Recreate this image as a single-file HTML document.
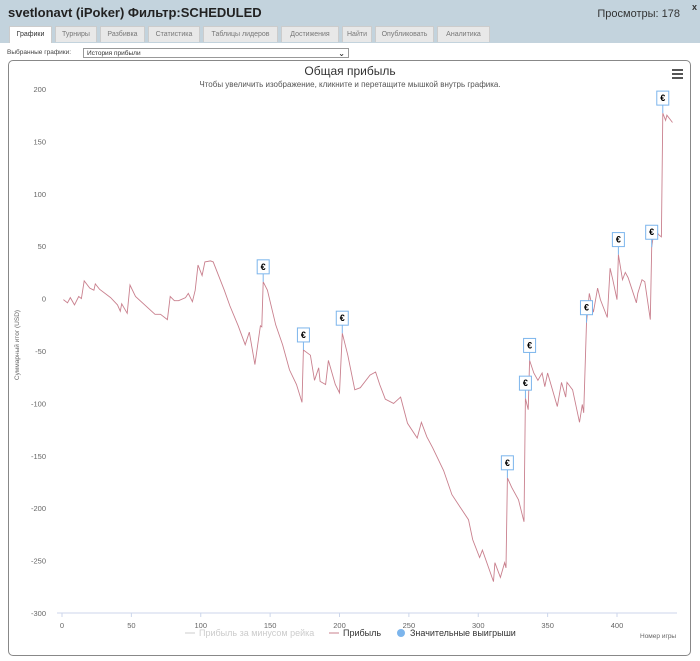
<!DOCTYPE html>
<html><head><meta charset="utf-8">
<style>
body{margin:0;width:700px;height:661px;overflow:hidden;background:#fff;font-family:"Liberation Sans","DejaVu Sans",sans-serif;position:relative}
.hdr{position:absolute;left:0;top:0;width:700px;height:43px;background:#c3d3dd}
.title{position:absolute;left:8px;top:5px;font-size:13px;font-weight:bold;color:#222}
.views{position:absolute;right:20px;top:8px;font-size:11px;color:#333}
.close{position:absolute;right:3px;top:2px;font-size:9px;font-weight:bold;color:#333}
.tabs{position:absolute;left:8px;top:26px;height:17px}
.tab{position:absolute;top:0;height:16px;font-size:7px;color:#777;background:#e8e8e8;border:1px solid #ccc;border-bottom:none;text-align:center;line-height:16px;box-sizing:border-box}
.tab.act{background:#fff;color:#333;height:17px}
.sel-l{position:absolute;left:7px;top:49px;font-size:6.5px;color:#444}
.sel{position:absolute;left:83px;top:48px;width:266px;height:10px;border:1px solid #999;font-size:6.5px;color:#333;line-height:10px;padding-left:3px;box-sizing:border-box}
.sel span{position:absolute;right:3px;top:0;font-size:8px;font-weight:bold}
.box{position:absolute;left:8px;top:60px;width:683px;height:596px;border:1px solid #888;border-radius:5px;box-sizing:border-box}
</style></head><body>
<div class="hdr">
<div class="title">svetlonavt (iPoker) Фильтр:SCHEDULED</div>
<div class="views">Просмотры: 178</div>
<div class="close">x</div>
<div class="tabs">
<div class="tab act" style="left:1px;width:43px">Графики</div>
<div class="tab" style="left:47px;width:42px">Турниры</div>
<div class="tab" style="left:92px;width:45px">Разбивка</div>
<div class="tab" style="left:140px;width:52px">Статистика</div>
<div class="tab" style="left:195px;width:75px">Таблицы лидеров</div>
<div class="tab" style="left:273px;width:58px">Достижения</div>
<div class="tab" style="left:334px;width:30px">Найти</div>
<div class="tab" style="left:367px;width:59px">Опубликовать</div>
<div class="tab" style="left:429px;width:53px">Аналитика</div>
</div></div>
<div class="sel-l">Выбранные графики:</div>
<div class="sel">История прибыли<span>⌄</span></div>
<div class="box"></div>
<svg id="chart" width="700" height="661" style="position:absolute;left:0;top:0">
<text x="350" y="75" text-anchor="middle" font-size="12" fill="#333">Общая прибыль</text>
<text x="350" y="87" text-anchor="middle" font-size="8" fill="#555">Чтобы увеличить изображение, кликните и перетащите мышкой внутрь графика.</text>
<g><rect x="672" y="69" width="11" height="2" fill="#555"/><rect x="672" y="73" width="11" height="2" fill="#555"/><rect x="672" y="77" width="11" height="2" fill="#555"/></g>
<text transform="translate(19,345) rotate(-90)" text-anchor="middle" font-size="6.5" fill="#666">Суммарный итог (USD)</text>
<line x1="57" y1="613" x2="677" y2="613" stroke="#ccd6eb"/>
<text x="640" y="638" font-size="6.5" fill="#666">Номер игры</text>
<g>
<g><line x1="185" y1="633" x2="195" y2="633" stroke="#ccc"/><text x="199" y="636" font-size="9" fill="#ccc">Прибыль за минусом рейка</text></g>
<g><line x1="329" y1="633" x2="339" y2="633" stroke="#c9808e"/><text x="343" y="636" font-size="9" fill="#333">Прибыль</text></g>
<g><circle cx="401" cy="633" r="4" fill="#7cb5ec"/><text x="410" y="636" font-size="9" fill="#333">Значительные выигрыши</text></g>
</g>
<g id="plot"></g>
</svg>
<script>
const games=[1,4,6,9,12,14,16,20,23,24,27,35,40,42,43,47,49,53,67,71,76,78,81,84,89,91,94,96,98,101,103,107,109,117,121,127,132,135,139,143,144,145,148,154,159,164,169,173,174,179,182,185,186,190,192,197,200,202,206,211,215,222,226,229,233,239,244,249,256,259,263,267,275,281,287,293,296,301,303,311,312,316,319,320,321,324,329,333,334,336,337,340,343,346,348,350,357,360,363,364,368,373,375,376,378,380,383,386,388,393,395,397,400,401,404,406,408,414,415,418,420,424,425,427,430,432,433,435,436,440];
const profit=[-1,-4,1,-6,2,0,17,10,8,14,9,1,-6,-12,-5,-14,13,2,-15,-15,-20,2,-2,-2,1,5,-3,8,32,22,35,36,35,8,-7,-26,-44,-32,-63,-26,-27,16,8,-25,-44,-68,-82,-99,-49,-54,-78,-66,-79,-82,-59,-82,-90,-33,-54,-87,-85,-73,-70,-82,-96,-100,-94,-119,-133,-118,-132,-142,-164,-187,-199,-211,-230,-247,-240,-270,-252,-266,-252,-257,-171,-180,-192,-213,-95,-106,-59,-71,-78,-71,-84,-71,-103,-80,-94,-80,-87,-118,-101,-109,-23,5,-13,10,-1,-18,29,18,-1,42,18,25,20,-4,5,18,16,-20,49,68,61,59,177,170,175,168];
const bigWinGames=[145,174,202,321,334,337,378,401,425,433];
const xTicks=[0,50,100,150,200,250,300,350,400];
const yTicks=[200,150,100,50,0,-50,-100,-150,-200,-250,-300];
const NS='http://www.w3.org/2000/svg';
const X=v=>62+v*1.3875, Y=v=>298.6-v*1.048;
const g=document.getElementById('plot');
function mk(t,a){const e=document.createElementNS(NS,t);for(const k in a)e.setAttribute(k,a[k]);g.appendChild(e);return e;}
xTicks.forEach(t=>{const tk=mk('line',{x1:X(t),x2:X(t),y1:613,y2:617,stroke:'#ccd6eb'});


const l=mk('text',{x:X(t),y:628,'text-anchor':'middle','font-size':7.5,fill:'#666'});l.textContent=t;

});
yTicks.forEach(t=>{const l=mk('text',{x:46,y:Y(t)+3,'text-anchor':'end','font-size':7.5,fill:'#666'});l.textContent=t;

});
const pts=games.map((x,i)=>X(x).toFixed(1)+','+Y(profit[i]).toFixed(1)).join(' ');
const line=mk('polyline',{points:pts,fill:'none',stroke:'#c9808e','stroke-width':0.9});


bigWinGames.forEach(gm=>{const i=games.indexOf(gm);const px=X(gm),py=Y(profit[i]);
const f=mk('g',{});


const ln=document.createElementNS(NS,'line');ln.setAttribute('x1',px);ln.setAttribute('x2',px);ln.setAttribute('y1',py-8);ln.setAttribute('y2',py);ln.setAttribute('stroke','#7cb5ec');f.appendChild(ln);
const r=document.createElementNS(NS,'rect');r.setAttribute('x',px-6);r.setAttribute('y',py-22);r.setAttribute('width',12);r.setAttribute('height',14);r.setAttribute('fill','#fff');r.setAttribute('stroke','#7cb5ec');f.appendChild(r);
const t=document.createElementNS(NS,'text');t.setAttribute('x',px);t.setAttribute('y',py-12);t.setAttribute('text-anchor','middle');t.setAttribute('font-size',9);t.setAttribute('font-weight','bold');t.textContent='€';f.appendChild(t);});
</script>
</body></html>
